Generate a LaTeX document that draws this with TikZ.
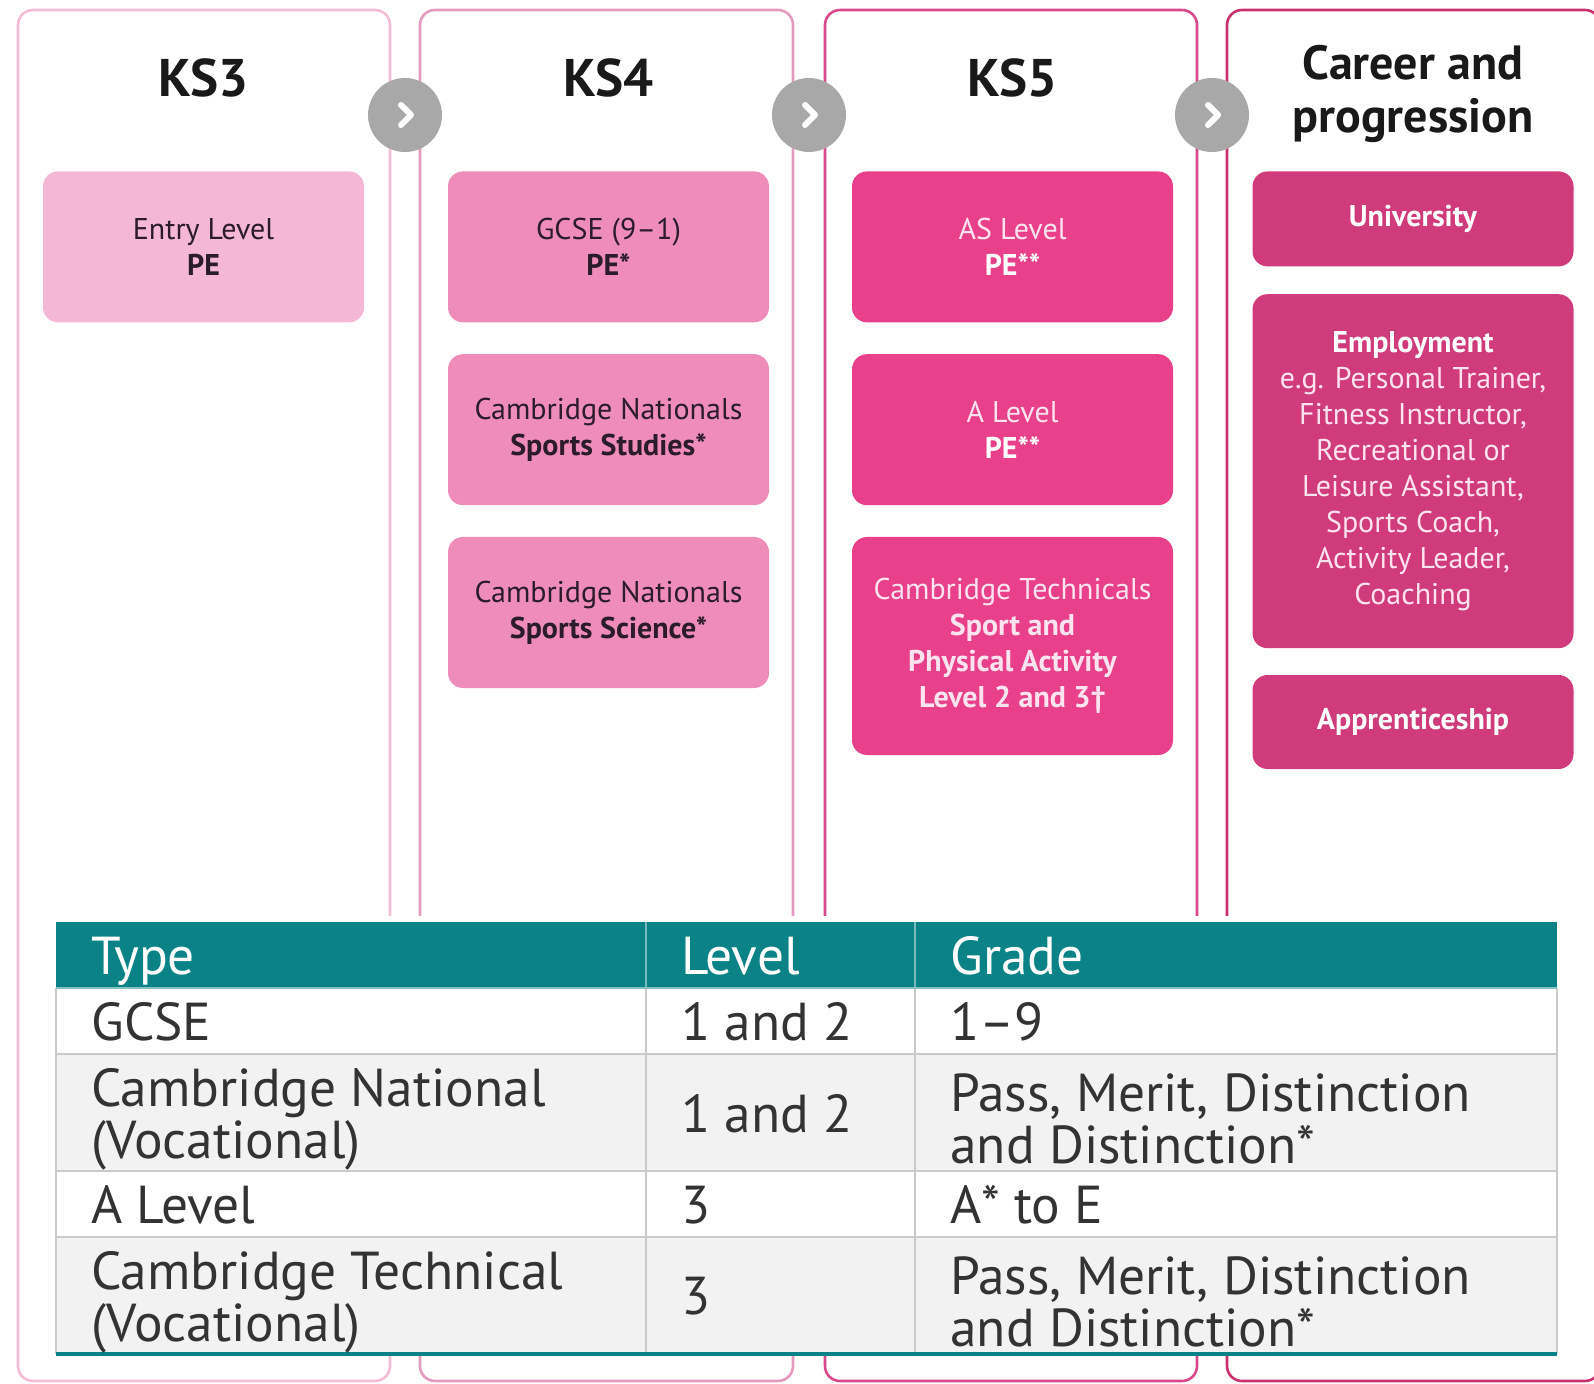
\documentclass[tikz,border=0pt]{standalone}
\usepackage{fontspec}
\setsansfont{PT Sans}
\usepackage{tikz}
\usetikzlibrary{positioning}
\usepackage{xcolor}
\definecolor{edgeone}{HTML}{F2BDD5}
\definecolor{edgetwo}{HTML}{E29BBE}
\definecolor{edgethree}{HTML}{D9488A}
\definecolor{edgefour}{HTML}{C9306F}
\definecolor{fillone}{HTML}{F4B8D6}
\definecolor{filltwo}{HTML}{EE8DBA}
\definecolor{fillthree}{HTML}{E8408A}
\definecolor{fillfour}{HTML}{CF3B7B}
\definecolor{tabhead}{HTML}{0B8285}
\definecolor{rowgrey}{HTML}{F2F2F2}
\definecolor{gridgrey}{HTML}{CACACA}
\definecolor{chevgrey}{HTML}{A8A8A8}
\definecolor{darktext}{HTML}{2B1B2B}
\definecolor{softtext}{HTML}{FCE3EF}
\definecolor{bodytext}{HTML}{333333}

\begin{document}
\begin{tikzpicture}[
    x=0.5pt, y=-0.5pt,
    frame/.style={rounded corners=7.5pt, line width=1.3pt},
    course/.style={rounded corners=7.5pt, minimum width=160.5pt, minimum height=75.5pt,
                   inner sep=0pt, align=center,
                   font=\sffamily\fontsize{15}{18}\selectfont},
    stage/.style={font=\sffamily\bfseries\fontsize{26.5}{30}\selectfont, text=black!90, align=center},
    next/.style={circle, fill=chevgrey, minimum size=37pt, inner sep=0pt},
    chev/.style={draw=white, line width=3pt, line cap=round, line join=round},
    cell/.style={anchor=west, inner sep=0pt, align=left, text=bodytext,
                 font=\sffamily\fontsize{26.7}{26}\selectfont},
    headcell/.style={cell, anchor=base west, text=white},
    grid/.style={draw=gridgrey, line width=1.2pt},
]
    \useasboundingbox (0,0) rectangle (1594,1384);

    % Stage columns
    \draw[frame, draw=edgeone] (18,10) rectangle (390,1381);
    \draw[frame, draw=edgetwo] (420,10) rectangle (793,1381);
    \draw[frame, draw=edgethree] (825,10) rectangle (1197,1381);
    \draw[frame, draw=edgefour] (1227,10) rectangle (1600,1381);

    % Column titles
    \node[stage] (ks3) at (203.5,78) {KS3};
    \node[stage] (ks4) at (608.5,78) {KS4};
    \node[stage] (ks5) at (1012.5,78) {KS5};
    \node[stage, font=\sffamily\bfseries\fontsize{24}{26.5}\selectfont] (career) at (1413,94)
        {Career and\\progression};

    % Grey "next" markers between columns
    \node[next] (next1) at (405,115) {};
    \node[next] (next2) at (809,115) {};
    \node[next] (next3) at (1212,115) {};
    \foreach \n in {next1,next2,next3}
        \draw[chev] (\n.center) ++(-4,-10) -- ++(10,10) -- ++(-10,10);

    % KS3
    \node[course, fill=fillone, text=darktext, anchor=north] (entry) at (203.5,171)
        {Entry Level\\\textbf{PE}};

    % KS4
    \node[course, fill=filltwo, text=darktext, anchor=north] (gcse) at (608.5,171)
        {GCSE (9--1)\\\textbf{PE*}};
    \node[course, fill=filltwo, text=darktext, below=15.5pt of gcse] (studies)
        {Cambridge Nationals\\\textbf{Sports Studies*}};
    \node[course, fill=filltwo, text=darktext, below=15.5pt of studies] (science)
        {Cambridge Nationals\\\textbf{Sports Science*}};

    % KS5
    \node[course, fill=fillthree, text=softtext, anchor=north] (aslevel) at (1012.5,171)
        {AS Level\\\textbf{\color{white}PE**}};
    \node[course, fill=fillthree, text=softtext, below=15.5pt of aslevel] (alevel)
        {A Level\\\textbf{\color{white}PE**}};
    \node[course, fill=fillthree, text=softtext, minimum height=109pt, below=15.5pt of alevel] (technicals)
        {Cambridge Technicals\\\textbf{Sport and}\\\textbf{Physical Activity}\\\textbf{Level 2 and 3\textdagger}};

    % Career and progression
    \node[course, fill=fillfour, text=white, minimum height=47.5pt, anchor=north] (uni) at (1413,171)
        {\textbf{University}};
    \node[course, fill=fillfour, text=softtext, minimum height=177pt, below=13.5pt of uni] (employ)
        {\textbf{\color{white}Employment}\\e.g. Personal Trainer,\\Fitness Instructor,\\Recreational or\\
         Leisure Assistant,\\Sports Coach,\\Activity Leader,\\Coaching};
    \node[course, fill=fillfour, text=white, minimum height=47pt, below=13pt of employ] (appr)
        {\textbf{Apprenticeship}};

    % Qualification table
    \fill[white] (56,916) rectangle (1557,1355);
    \fill[tabhead] (56,922) rectangle (1557,988);
    \foreach \ya/\yb in {1054/1171, 1237/1354}
        \fill[rowgrey] (56,\ya) rectangle (1557,\yb);
    \foreach \y in {1054,1171,1237}
        \draw[grid] (56,\y) -- (1557,\y);
    \foreach \x in {56,646,915,1557}
        \draw[grid] (\x,988) -- (\x,1354);
    \foreach \x in {646,915}
        \draw[tabhead!55!white, line width=0.6pt] (\x,922) -- (\x,988);
    \draw[tabhead!50!white, line width=0.6pt] (56,988) -- (1557,988);
    \draw[tabhead, line width=2pt] (56,1354) -- (1557,1354);

    % Header row
    \node[headcell] (hType) at (91,974) {Type};
    \node[headcell] (hLevel) at (681,974) {Level};
    \node[headcell] (hGrade) at (950,974) {Grade};

    % Body rows
    \node[cell] (gcseType) at (91,1022) {GCSE};
    \node[cell] (gcseLevel) at (681,1022) {1 and 2};
    \node[cell] (gcseGrade) at (950,1022) {1--9};

    \node[cell] (natType) at (91,1119) {Cambridge National\\(Vocational)};
    \node[cell] (natLevel) at (681,1113.5) {1 and 2};
    \node[cell] (natGrade) at (950,1119) {Pass, Merit, Distinction\\and Distinction*};

    \node[cell] (alType) at (91,1205) {A Level};
    \node[cell] (alLevel) at (681,1205) {3};
    \node[cell] (alGrade) at (950,1205) {A* to E};

    \node[cell] (techType) at (91,1302) {Cambridge Technical\\(Vocational)};
    \node[cell] (techLevel) at (681,1296.5) {3};
    \node[cell] (techGrade) at (950,1302) {Pass, Merit, Distinction\\and Distinction*};
\end{tikzpicture}
\end{document}
